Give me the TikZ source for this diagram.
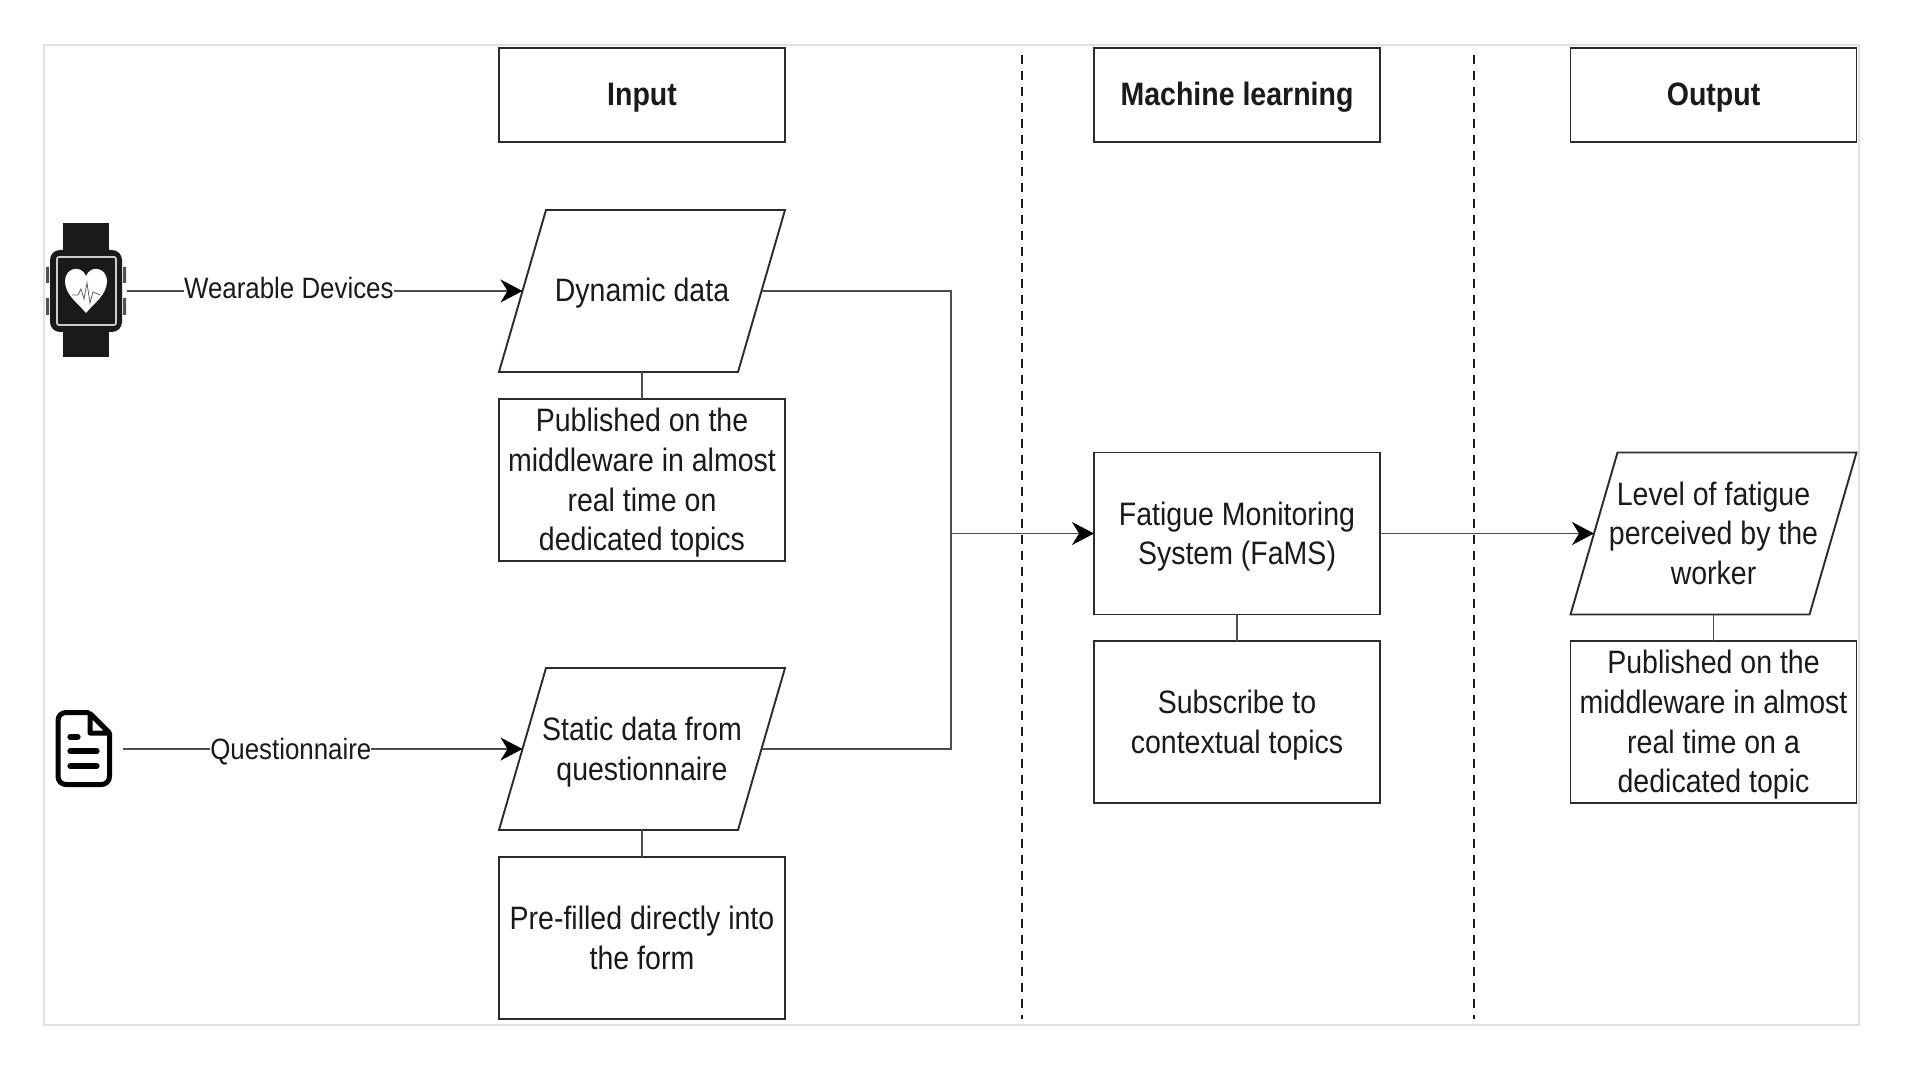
\documentclass[tikz,border=0pt]{standalone}
\usepackage{fontspec}
\setmainfont{Liberation Sans}[FakeStretch=0.88]
\usetikzlibrary{arrows.meta}
\definecolor{ink}{HTML}{1A1A1A}
\definecolor{edge}{HTML}{2B2B2B}
\definecolor{wiregray}{HTML}{4D4D4D}
\definecolor{framegray}{HTML}{E0E0E0}
% Invisible strut that opens the first line of a multi-line label
\newcommand{\topgap}{\rule{0pt}{15.3pt}}
% Parallelogram node with a fixed horizontal lean of 23.5pt; west and east sit on the slanted sides.
\makeatletter
\pgfdeclareshape{leaningbox}{
  \inheritsavedanchors[from=rectangle]
  \inheritanchorborder[from=rectangle]
  \inheritanchor[from=rectangle]{center}
  \inheritanchor[from=rectangle]{north}
  \inheritanchor[from=rectangle]{south}
  \inheritanchor[from=rectangle]{text}
  \anchor{west}{\southwest \pgf@xa=\pgf@x \pgf@ya=\pgf@y
    \northeast \pgf@y=.5\pgf@y \advance\pgf@y by .5\pgf@ya
    \pgf@x=\pgf@xa \advance\pgf@x by 11.75pt}
  \anchor{east}{\southwest \pgf@ya=\pgf@y
    \northeast \pgf@y=.5\pgf@y \advance\pgf@y by .5\pgf@ya
    \advance\pgf@x by -11.75pt}
  \backgroundpath{
    \southwest \edef\lbxa{\the\pgf@x}\edef\lbya{\the\pgf@y}
    \northeast \edef\lbxb{\the\pgf@x}\edef\lbyb{\the\pgf@y}
    \pgfpathmoveto{\pgfpoint{\lbxa}{\lbya}}
    \pgfpathlineto{\pgfpoint{\lbxb-23.5pt}{\lbya}}
    \pgfpathlineto{\pgfpoint{\lbxb}{\lbyb}}
    \pgfpathlineto{\pgfpoint{\lbxa+23.5pt}{\lbyb}}
    \pgfpathclose
  }
}
\makeatother
\tikzset{
  x=0.5pt,y=-0.5pt,
  every node/.style={font=\fontsize{16.2}{19.8}\selectfont,text=ink,align=center,outer sep=0pt,inner sep=0pt,
    execute at begin node={\rule{0pt}{14.2pt}},execute at end node={\rule[-4pt]{0pt}{4pt}}},
  boxbase/.style={draw=edge,line width=0.95pt,fill=white},
  headbox/.style={boxbase,rectangle,minimum width=143pt,minimum height=47pt,font=\fontsize{16.2}{19.8}\selectfont\bfseries},
  notebox/.style={boxbase,rectangle,minimum width=143pt,minimum height=81pt},
  slanted/.style={boxbase,shape=leaningbox,minimum width=143pt,minimum height=81pt},
  wire/.style={draw=wiregray,line width=0.9pt},
  flow/.style={wire,-{Stealth[length=11pt,width=11.5pt,inset=3.5pt,color=black]}},
  divider/.style={draw=ink,line width=0.55pt,dash pattern=on 4.5pt off 3.5pt},
  onwire/.style={fill=white,inner xsep=0pt,inner ysep=0pt,font=\fontsize{14.7}{17}\selectfont},
  icondark/.style={fill=ink,draw=none},
}
\begin{document}
\begin{tikzpicture}
\useasboundingbox (0,0) rectangle (1920,1080);
\fill[white] (0,0) rectangle (1920,1080);
\draw[framegray,line width=0.9pt] (44,45) rectangle (1859,1025);

% Column separators
\draw[divider] (1022,55) -- (1022,1019);
\draw[divider] (1474,55) -- (1474,1019);

% Column headings
\node[headbox] (hin) at (642,95) {Input};
\node[headbox] (hml) at (1237,95) {Machine learning};
\node[headbox] (hout) at (1713.5,95) {Output};

% Input column
\node[slanted] (dyn) at (642,291) {Dynamic data};
\node[notebox] (pub) at (642,480) {\topgap Published on the\\middleware in almost\\real time on\\dedicated topics};
\node[slanted] (stat) at (642,749) {\topgap Static data from\\questionnaire};
\node[notebox] (pre) at (642,938) {\topgap Pre-filled directly into\\the form};

% Machine learning column
\node[notebox] (fams) at (1237,533.5) {\topgap Fatigue Monitoring\\System (FaMS)};
\node[notebox] (sub) at (1237,722) {\topgap Subscribe to\\contextual topics};

% Output column
\node[slanted] (lev) at (1713.5,533.5) {\topgap Level of fatigue\\perceived by the\\worker};
\node[notebox] (pubo) at (1713.5,722) {\topgap Published on the\\middleware in almost\\real time on a\\dedicated topic};

% Smartwatch icon
\node[minimum width=40.5pt,minimum height=67pt] (watch) at (86,291) {};
\fill[icondark] (63,223) rectangle (109,252);
\fill[icondark] (63,330) rectangle (109,357);
\fill[ink!75] (46,267) rectangle (49,283) (46,298) rectangle (49,315);
\fill[ink!75] (123,267) rectangle (126,283) (123,298) rectangle (126,315);
\fill[icondark,rounded corners=5pt] (50,250) rectangle (122,332);
\draw[white!80!black,line width=0.9pt,rounded corners=1pt] (57,257) rectangle (116,325);
\fill[white] (86,313) .. controls (78,303) and (65,295) .. (65,281)
  .. controls (65,268) and (81,264) .. (86,276)
  .. controls (91,264) and (107,268) .. (107,281)
  .. controls (107,295) and (94,303) .. (86,313) -- cycle;
\draw[ink!70,line width=0.4pt] (72,295) -- (78,295) -- (81,289) -- (84,299) -- (87,283) -- (90,303) -- (93,292) -- (100,295);

% Document icon
\node[minimum width=38.5pt,minimum height=39pt] (doc) at (84.5,749) {};
\draw[black,line width=2.5pt,line join=round,rounded corners=4pt]
  (89,712.5) -- (58,712.5) -- (58,784.5) -- (109.5,784.5) -- (109.5,733);
\draw[black,line width=2.5pt,line join=round] (90,713.5) -- (109.5,733) -- (90,733) -- cycle;
\draw[black,line width=2.6pt,line cap=round] (70,737) -- (78,737) (70,751) -- (97,751) (70,766) -- (97,766);

% Data sources to input parallelograms
\draw[flow] (watch.east) -- node[onwire,pos=.41,yshift=1.2pt] (lw) {Wearable Devices} (dyn.west);
\draw[flow] (doc.east) -- node[onwire,pos=.42] (lq) {Questionnaire} (stat.west);

% Ties between parallelograms and their note boxes
\draw[wire] (dyn.south) -- (pub.north);
\draw[wire] (stat.south) -- (pre.north);
\draw[wire] (fams.south) -- (sub.north);
\draw[wire] (lev.south) -- (pubo.north);

% Merge of both inputs into the monitoring system
\coordinate (bus) at (951,533.5);
\draw[wire] (dyn.east) -| (bus);
\draw[wire] (stat.east) -| (bus);
\draw[flow] (bus) -- (fams.west);
\draw[flow] (fams.east) -- (lev.west);
\end{tikzpicture}
\end{document}
